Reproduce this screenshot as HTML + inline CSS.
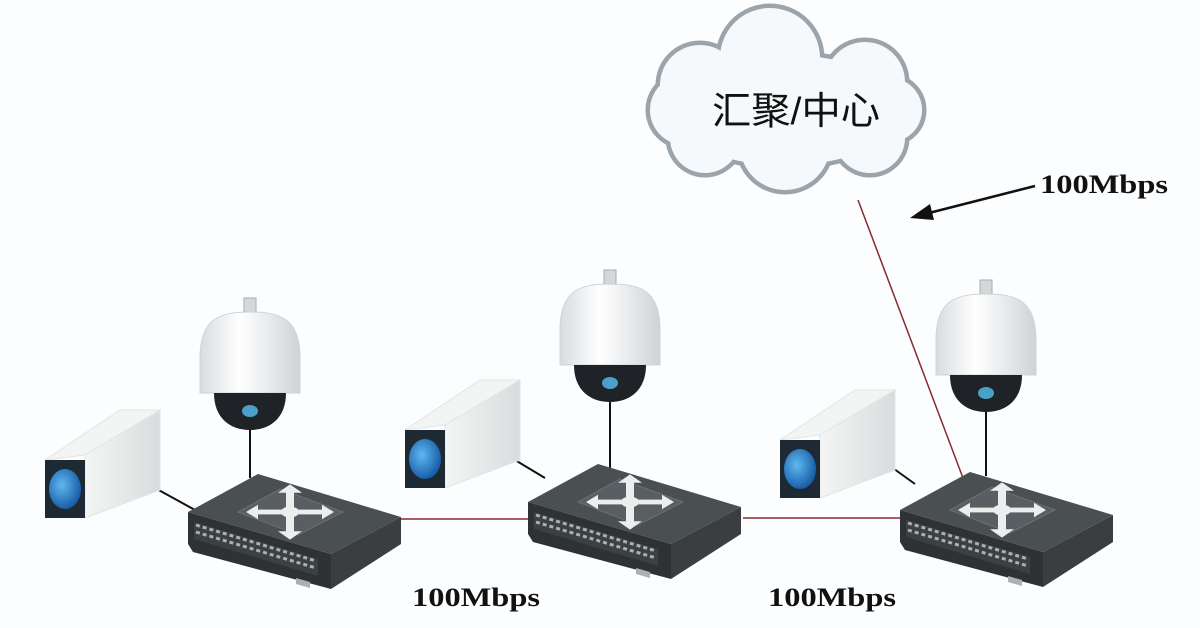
<!DOCTYPE html>
<html><head><meta charset="utf-8"><style>
html,body{margin:0;padding:0;background:#fcfdfe;}
svg{display:block}
</style></head><body>
<svg width="1200" height="628" viewBox="0 0 1200 628" xmlns="http://www.w3.org/2000/svg">
<defs>
<linearGradient id="domeG" x1="0" x2="1"><stop offset="0" stop-color="#d8dcdf"/><stop offset="0.4" stop-color="#ffffff"/><stop offset="1" stop-color="#cfd3d6"/></linearGradient>
<linearGradient id="boxG" x1="0" x2="1"><stop offset="0" stop-color="#f4f5f5"/><stop offset="1" stop-color="#d9dcdd"/></linearGradient>
<radialGradient id="lensG" cx="0.4" cy="0.4" r="0.6"><stop offset="0" stop-color="#5fb8f0"/><stop offset="1" stop-color="#1a5fa8"/></radialGradient>
<g id="sw">
 <polygon points="0,40 143,82 143,117 5,80 0,72" fill="#2e3234"/>
 <polygon points="143,82 213,45 213,72 143,117" fill="#3a3e40"/>
 <polygon points="0,40 70,2 213,45 143,82" fill="#4a4f52"/>
 <polygon points="50,40 92,17 155,40 110,63" fill="#595e62" stroke="#6b7073"/>
 <g transform="translate(102,40) scale(1,0.6)" fill="#eceeee">
  <circle r="9" fill="#eceeee"/>
  <circle r="5" fill="#4a4f52"/>
  <rect x="-36" y="-4" width="72" height="8"/>
  <polygon points="-44,0 -32,-12 -32,12"/><polygon points="44,0 32,-12 32,12"/>
  <rect x="-4" y="-36" width="8" height="72"/>
  <polygon points="0,-46 -12,-32 12,-32"/><polygon points="0,46 -12,32 12,32"/>
 </g>
 <polygon points="6,50 130,87 130,104 6,67" fill="#3b4042"/>
 <path d="M8,53 l120,36 M8,60 l120,36" stroke="#aab0b3" stroke-width="3" stroke-dasharray="4,3"/>
 <polygon points="108,106 122,110 122,116 108,112" fill="#aab0b3"/>
</g>
<g id="dome">
 <rect x="-6" y="0" width="12" height="14" fill="#d5d8da" stroke="#aaa"/>
 <path d="M-50,95 L-50,60 C-50,20 -30,14 0,14 C30,14 50,20 50,60 L50,95 Z" fill="url(#domeG)" stroke="#cfd3d6"/>
 <path d="M-36,95 L36,95 C36,120 20,132 0,132 C-20,132 -36,120 -36,95 Z" fill="#1f2327"/>
 <ellipse cx="0" cy="113" rx="8" ry="6" fill="#4aa0c8"/>
</g>
<g id="box">
 <polygon points="40,50 115,5 115,85 40,113" fill="url(#boxG)" stroke="#e2e4e5"/>
 <polygon points="0,55 75,5 115,5 40,50" fill="#f3f4f4" stroke="#e2e4e5"/>
 <rect x="0" y="55" width="40" height="58" fill="#1d2933"/>
 <ellipse cx="20" cy="84" rx="16" ry="20" fill="url(#lensG)"/>
</g>
</defs>

<g fill="#ffffff" stroke="#9aa4aa" stroke-width="9">
 <ellipse cx="785" cy="110" rx="120" ry="55"/>
 <circle cx="770" cy="58" r="50"/><circle cx="700" cy="85" r="40"/><circle cx="865" cy="82" r="40"/>
 <circle cx="705" cy="138" r="35"/><circle cx="785" cy="145" r="45"/><circle cx="870" cy="138" r="35"/>
 <circle cx="685" cy="110" r="35"/><circle cx="890" cy="110" r="32"/>
</g>
<g fill="#f6f9fb">
 <ellipse cx="785" cy="110" rx="120" ry="55"/>
 <circle cx="770" cy="58" r="50"/><circle cx="700" cy="85" r="40"/><circle cx="865" cy="82" r="40"/>
 <circle cx="705" cy="138" r="35"/><circle cx="785" cy="145" r="45"/><circle cx="870" cy="138" r="35"/>
 <circle cx="685" cy="110" r="35"/><circle cx="890" cy="110" r="32"/>
</g>
<text x="712" y="124" font-family="Liberation Sans, 'Noto Sans CJK SC', sans-serif" font-size="38" fill="#111" textLength="168" lengthAdjust="spacingAndGlyphs">汇聚/中心</text>

<line x1="858" y1="200" x2="963" y2="478" stroke="#8b2a2a" stroke-width="1.5"/>
<line x1="400" y1="519" x2="530" y2="519" stroke="#8b2a2a" stroke-width="1.5"/>
<line x1="743" y1="518" x2="900" y2="518" stroke="#8b2a2a" stroke-width="1.5"/>
<line x1="250" y1="430" x2="250" y2="478" stroke="#111" stroke-width="2"/>
<line x1="610" y1="400" x2="610" y2="468" stroke="#111" stroke-width="2"/>
<line x1="986" y1="410" x2="986" y2="476" stroke="#111" stroke-width="2"/>
<line x1="155" y1="488" x2="195" y2="510" stroke="#111" stroke-width="2"/>
<line x1="515" y1="460" x2="545" y2="478" stroke="#111" stroke-width="2"/>
<line x1="890" y1="466" x2="915" y2="484" stroke="#111" stroke-width="2"/>

<line x1="1035" y1="186" x2="925" y2="214" stroke="#111" stroke-width="2.5"/>
<polygon points="910,218 930,204 934,220" fill="#111"/>
<g font-family="Liberation Serif, serif" font-weight="bold" font-size="26" fill="#111">
<text x="1040" y="193" textLength="128" lengthAdjust="spacingAndGlyphs">100Mbps</text>
<text x="412" y="606" textLength="128" lengthAdjust="spacingAndGlyphs">100Mbps</text>
<text x="768" y="606" textLength="128" lengthAdjust="spacingAndGlyphs">100Mbps</text>
</g>

<use href="#sw" x="188" y="472"/>
<use href="#sw" x="528" y="462"/>
<use href="#sw" x="900" y="470"/>
<use href="#dome" x="250" y="298"/>
<use href="#dome" x="610" y="270"/>
<use href="#dome" x="986" y="280"/>
<use href="#box" x="45" y="405"/>
<use href="#box" x="405" y="375"/>
<use href="#box" x="780" y="385"/>
</svg>
</body></html>
